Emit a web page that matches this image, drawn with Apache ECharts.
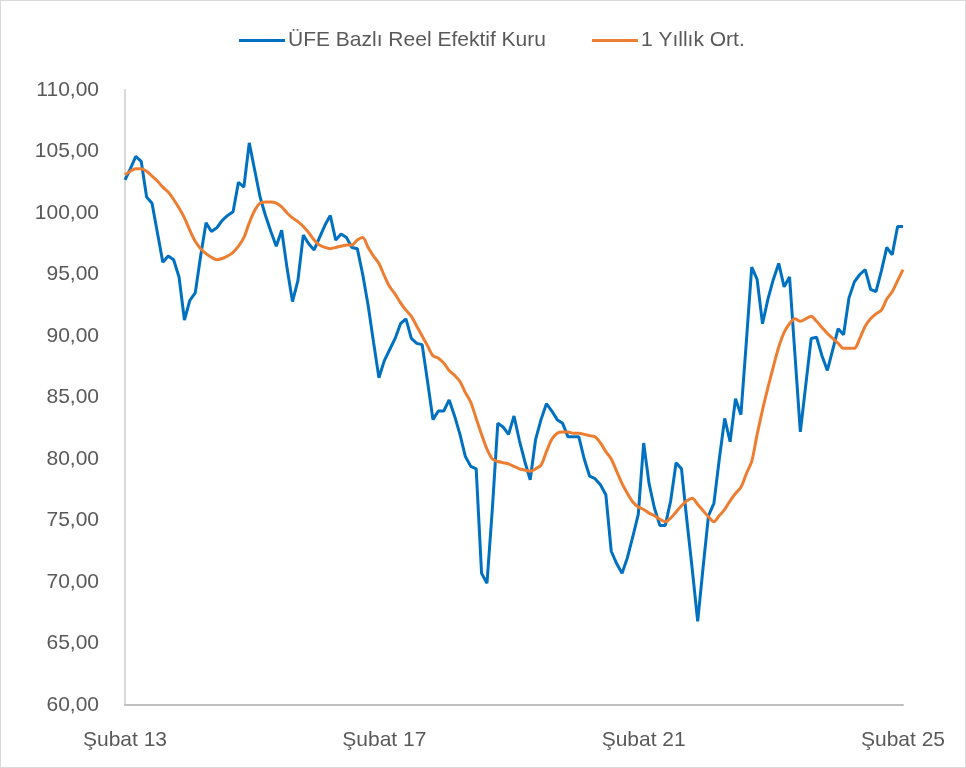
<!DOCTYPE html>
<html>
<head>
<meta charset="utf-8">
<script src="https://cdn.jsdelivr.net/npm/echarts@6/dist/echarts.min.js"></script>
<style>
  html, body { margin: 0; padding: 0; background: #fff; }
  #chart { width: 964px; height: 766px; border: 1px solid #d9d9d9; }
</style>
</head>
<body>
<div id="chart"></div>
<script>
// monthly, Şubat 2013 .. Şubat 2025
const monthNames = ['Ocak', 'Şubat', 'Mart', 'Nisan', 'Mayıs', 'Haziran', 'Temmuz', 'Ağustos', 'Eylül', 'Ekim', 'Kasım', 'Aralık'];
const tickLabels = ['Şubat 13', 'Şubat 17', 'Şubat 21', 'Şubat 25'];

const reelKur = [
  102.7, 103.6, 104.6, 104.2, 101.3, 100.8, 98.4, 96.0, 96.5, 96.2,
  94.8, 91.3, 92.9, 93.5, 96.5, 99.2, 98.5, 98.8, 99.4, 99.8,
  100.1, 102.5, 102.1, 105.7, 103.5, 101.3, 99.8, 98.5, 97.3, 98.6,
  95.5, 92.8, 94.5, 98.2, 97.5, 97.0, 98.0, 99.0, 99.8, 97.8,
  98.3, 98.0, 97.2, 97.1, 95.0, 92.5, 89.5, 86.6, 88.0, 88.9,
  89.8, 91.0, 91.4, 89.8, 89.4, 89.3, 86.3, 83.2, 83.9, 83.9,
  84.8, 83.5, 82.0, 80.2, 79.4, 79.2, 70.7, 69.9, 76.0, 82.9,
  82.6, 82.0, 83.5, 81.5, 79.8, 78.3, 81.6, 83.2, 84.5, 83.9,
  83.2, 82.9, 81.8, 81.8, 81.8, 80.0, 78.6, 78.4, 77.9, 77.1,
  72.5, 71.5, 70.7, 72.0, 73.7, 75.5, 81.3, 78.0, 76.0, 74.6,
  74.6, 76.6, 79.7, 79.2, 75.0, 71.0, 66.8, 71.2, 75.4, 76.4,
  80.0, 83.3, 81.4, 84.9, 83.6, 89.5, 95.6, 94.6, 91.0, 93.0,
  94.6, 95.9, 94.0, 94.8, 88.5, 82.2, 86.0, 89.8, 89.9, 88.4,
  87.2, 88.9, 90.6, 90.1, 93.1, 94.4, 95.0, 95.4, 93.8, 93.6,
  95.3, 97.2, 96.6, 98.9, 98.9
];

const yillikOrt = [
  103.1, 103.4, 103.6, 103.6, 103.4, 103.0, 102.6, 102.1, 101.7, 101.1,
  100.4, 99.6, 98.6, 97.7, 97.1, 96.7, 96.4, 96.2, 96.3, 96.5,
  96.8, 97.3, 98.0, 99.2, 100.2, 100.8, 100.9, 100.9, 100.8, 100.5,
  100.0, 99.6, 99.3, 98.9, 98.4, 97.8, 97.4, 97.2, 97.1, 97.2,
  97.3, 97.4, 97.4, 97.8, 98.0, 97.2, 96.5, 95.9, 94.9, 94.0,
  93.4, 92.7, 92.1, 91.6, 90.8, 90.0, 89.2, 88.4, 88.2, 87.8,
  87.2, 86.8, 86.3, 85.4, 84.6, 83.3, 82.0, 80.8, 80.0, 79.8,
  79.7, 79.6, 79.4, 79.2, 79.1, 79.0, 79.2, 79.5, 80.6, 81.6,
  82.1, 82.2, 82.2, 82.1, 82.1, 82.0, 81.9, 81.8, 81.3, 80.6,
  80.0, 79.0, 78.0, 77.2, 76.5, 76.1, 75.9, 75.6, 75.4, 75.1,
  74.9, 75.2, 75.7, 76.2, 76.6, 76.8, 76.3, 75.8, 75.3, 74.9,
  75.4, 75.9, 76.6, 77.2, 77.7, 78.8, 79.8, 82.0, 84.0, 85.8,
  87.5, 89.1, 90.3, 91.0, 91.4, 91.2, 91.4, 91.6, 91.2, 90.7,
  90.2, 89.8, 89.4, 89.0, 89.0, 89.0, 89.8, 90.8, 91.4, 91.8,
  92.1, 93.0, 93.6, 94.5, 95.4
];

const categories = reelKur.map((_, i) => {
  const m = (1 + i) % 12;
  const y = 13 + Math.floor((1 + i) / 12);
  return monthNames[m] + ' ' + y;
});

const chart = echarts.init(document.getElementById('chart'), null, { renderer: 'canvas' });
const font = '"Liberation Sans", Arial, sans-serif';

chart.setOption({
  animation: false,
  color: ['#0070C0', '#ED7D31'],
  legend: {
    left: 233,
    top: 24,
    icon: 'rect',
    itemWidth: 46,
    itemHeight: 3,
    itemGap: 46,
    textStyle: { fontFamily: font, fontSize: 21, color: '#595959', padding: [0, 0, 0, -2] },
    data: ['ÜFE Bazlı Reel Efektif Kuru', '1 Yıllık Ort.']
  },
  grid: { left: 124, right: 62, top: 89, bottom: 62, outerBoundsMode: 'none' },
  xAxis: {
    type: 'category',
    data: categories,
    boundaryGap: false,
    axisLine: { lineStyle: { color: '#bfbfbf', width: 2 } },
    axisTick: { show: false },
    axisLabel: {
      interval: (idx, val) => tickLabels.includes(val),
      fontFamily: font,
      fontSize: 21,
      color: '#595959',
      margin: 25
    }
  },
  yAxis: {
    type: 'value',
    min: 60,
    max: 110,
    interval: 5,
    axisLine: { show: true, lineStyle: { color: '#d9d9d9', width: 2 } },
    axisTick: { show: false },
    splitLine: { show: false },
    axisLabel: {
      fontFamily: font,
      fontSize: 21,
      color: '#595959',
      margin: 26,
      formatter: (v) => v.toFixed(2).replace('.', ',')
    }
  },
  series: [
    {
      name: 'ÜFE Bazlı Reel Efektif Kuru',
      type: 'line',
      data: reelKur,
      showSymbol: false,
      lineStyle: { width: 3 }
    },
    {
      name: '1 Yıllık Ort.',
      type: 'line',
      data: yillikOrt,
      showSymbol: false,
      smooth: 0.3,
      lineStyle: { width: 3 }
    }
  ]
});
</script>
</body>
</html>
